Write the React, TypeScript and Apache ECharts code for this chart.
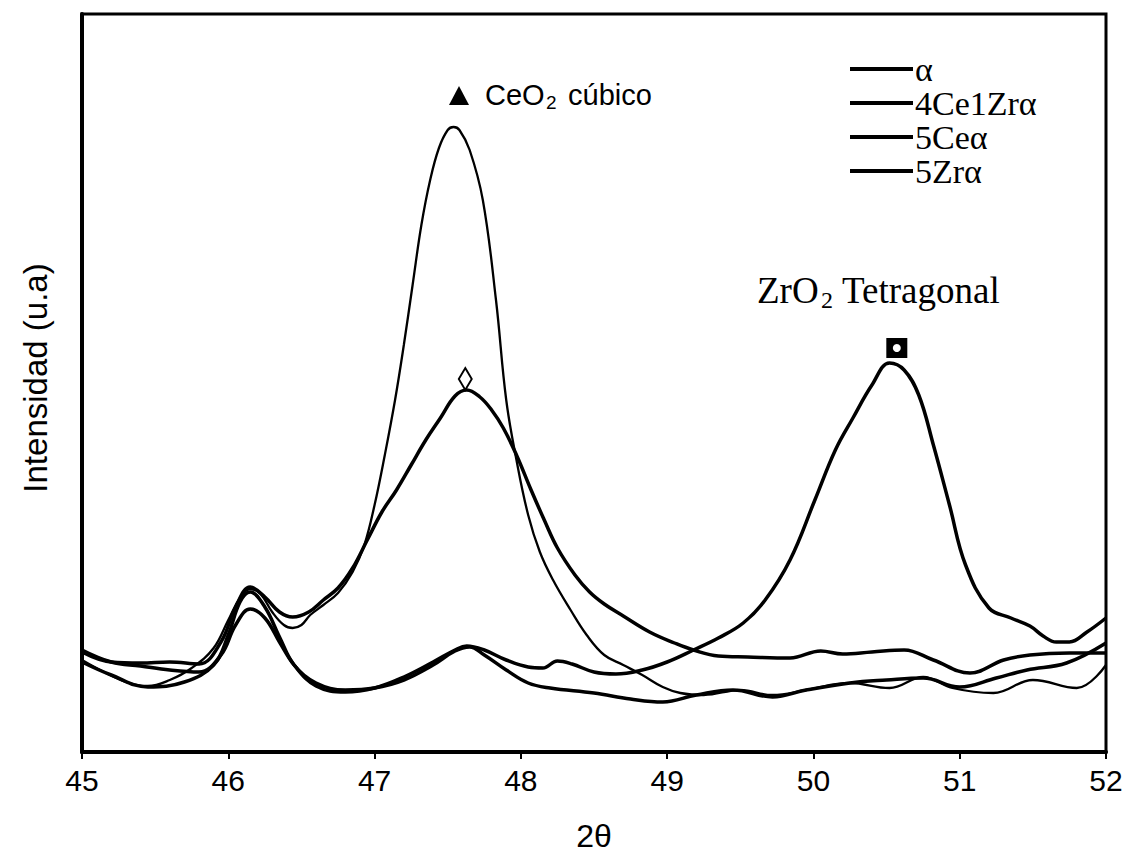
import React, { useEffect, useRef } from "react";
import * as echarts from "echarts";

// 2θ tick labels
const thetaTicks = [45, 46, 47, 48, 49, 50, 51, 52];

// α
const thetaAlpha = [45.0, 45.2, 45.45, 45.7, 45.9, 46.0, 46.08, 46.15, 46.25, 46.35, 46.45, 46.6, 46.8, 47.0, 47.2, 47.4, 47.55, 47.65, 47.75, 47.9, 48.05, 48.2, 48.5, 48.75, 48.97, 49.2, 49.45, 49.72, 49.95, 50.25, 50.5, 50.75, 51.0, 51.25, 51.46, 51.73, 52.0];
const intAlpha = [90, 77, 65, 70, 87, 117, 150, 160, 145, 115, 87, 69, 62, 64, 72, 87, 101, 105, 97, 82, 69, 64, 59, 53, 50, 57, 62, 55, 62, 69, 72, 74, 65, 74, 82, 89, 109];

// 4Ce1Zrα
const theta4Ce1Zr = [45.0, 45.2, 45.4, 45.6, 45.8, 45.95, 46.05, 46.15, 46.25, 46.35, 46.44, 46.55, 46.65, 46.75, 46.85, 46.95, 47.05, 47.15, 47.25, 47.35, 47.45, 47.55, 47.63, 47.72, 47.8, 47.88, 47.97, 48.07, 48.16, 48.25, 48.37, 48.47, 48.57, 48.7, 48.88, 49.05, 49.18, 49.35, 49.55, 49.84, 50.05, 50.2, 50.4, 50.62, 50.82, 51.07, 51.3, 51.48, 51.75, 52.0];
const int4Ce1Zr = [100, 90, 89, 90, 88, 110, 145, 165, 155, 140, 135, 140, 152, 164, 184, 212, 240, 262, 287, 312, 334, 356, 362, 355, 342, 324, 297, 262, 232, 204, 177, 160, 148, 136, 120, 109, 102, 96, 95, 94, 101, 98, 100, 102, 92, 79, 92, 97, 99, 99];

// 5Ceα
const theta5Ce = [45.0, 45.15, 45.3, 45.45, 45.6, 45.75, 45.9, 46.0, 46.08, 46.15, 46.22, 46.3, 46.38, 46.44, 46.5, 46.56, 46.65, 46.75, 46.85, 46.93, 47.0, 47.07, 47.14, 47.2, 47.26, 47.32, 47.38, 47.44, 47.5, 47.54, 47.58, 47.65, 47.74, 47.83, 47.9, 47.97, 48.05, 48.13, 48.22, 48.34, 48.45, 48.57, 48.7, 48.83, 48.97, 49.09, 49.25, 49.5, 49.72, 49.95, 50.25, 50.52, 50.75, 50.95, 51.23, 51.5, 51.8, 52.0];
const int5Ce = [92, 80, 70, 66, 72, 84, 104, 132, 154, 163, 158, 140, 127, 124, 127, 137, 147, 159, 180, 207, 247, 297, 352, 407, 467, 527, 572, 604, 622, 625, 622, 602, 552, 452, 352, 292, 237, 200, 172, 142, 117, 97, 87, 77, 65, 59, 57, 62, 57, 62, 69, 64, 75, 64, 59, 72, 64, 87];

// 5Zrα
const theta5Zr = [45.0, 45.2, 45.4, 45.6, 45.8, 45.95, 46.05, 46.15, 46.25, 46.35, 46.45, 46.6, 46.8, 47.0, 47.2, 47.4, 47.55, 47.63, 47.75, 47.9, 48.05, 48.15, 48.25, 48.35, 48.5, 48.65, 48.83, 49.0, 49.18, 49.35, 49.52, 49.67, 49.84, 50.01, 50.15, 50.27, 50.4, 50.52, 50.62, 50.72, 50.82, 50.93, 51.04, 51.2, 51.35, 51.48, 51.57, 51.66, 51.75, 51.87, 52.0];
const int5Zr = [102, 90, 86, 82, 80, 97, 127, 143, 134, 110, 87, 66, 60, 64, 75, 90, 102, 106, 102, 92, 85, 84, 91, 88, 80, 78, 82, 90, 102, 114, 129, 152, 192, 252, 302, 334, 367, 389, 382, 357, 307, 247, 187, 144, 134, 126, 116, 110, 110, 120, 134];

const seriesNames = ["α", "4Ce1Zrα", "5Ceα", "5Zrα"];

const pairs = (xs: number[], ys: number[]) => xs.map((x, i) => [x, ys[i]]);

export default function App() {
  const ref = useRef<HTMLDivElement>(null);
  useEffect(() => {
    const chart = echarts.init(ref.current!, null, { renderer: "svg" });
    const lineBase = (name: string, data: number[][], width: number, extra: any = {}) => ({
      name,
      type: "line",
      data,
      smooth: 0.4,
      showSymbol: false,
      symbol: "none",
      lineStyle: { color: "#000", width },
      itemStyle: { color: "#000" },
      z: 3,
      ...extra,
    });
    chart.setOption({
      animation: false,
      backgroundColor: "#fff",
      grid: { left: 82, right: 26, top: 14, bottom: 115, show: true, borderColor: "#000", borderWidth: 3 },
      legend: {
        orient: "vertical",
        left: 845,
        top: 47,
        itemWidth: 63,
        itemHeight: 4,
        itemGap: 0,
        icon: "rect",
        data: seriesNames,
        textStyle: { fontFamily: "Liberation Serif", fontSize: 34, color: "#000", lineHeight: 34, padding: [0, 0, 0, -3] },
      },
      xAxis: {
        type: "value",
        min: 45,
        max: 52,
        interval: 1,
        splitLine: { show: false },
        axisLine: { lineStyle: { color: "#000", width: 4 } },
        axisTick: { length: 7, lineStyle: { color: "#000", width: 2 } },
        axisLabel: {
          fontSize: 30,
          fontFamily: "Liberation Sans",
          color: "#000",
          margin: 13,
          formatter: (v: number) => (thetaTicks.includes(v) ? String(v) : ""),
        },
      },
      yAxis: {
        type: "value",
        min: 0,
        max: 738,
        splitLine: { show: false },
        axisLine: { show: true, lineStyle: { color: "#000", width: 4 } },
        axisTick: { show: false },
        axisLabel: { show: false },
      },
      series: [
        lineBase(seriesNames[0], pairs(thetaAlpha, intAlpha), 3.5),
        lineBase(seriesNames[1], pairs(theta4Ce1Zr, int4Ce1Zr), 3.5, {
          markPoint: {
            symbol: "diamond",
            symbolSize: [13, 22],
            label: { show: false },
            itemStyle: { color: "#fff", borderColor: "#000", borderWidth: 2 },
            data: [{ coord: [47.62, 373] }],
          },
        }),
        lineBase(seriesNames[2], pairs(theta5Ce, int5Ce), 2.3),
        lineBase(seriesNames[3], pairs(theta5Zr, int5Zr), 3.5, {
          markPoint: {
            label: { show: false },
            data: [
              { coord: [50.57, 404], symbol: "rect", symbolSize: [21, 20], itemStyle: { color: "#000" } },
              { coord: [50.57, 404], symbol: "circle", symbolSize: 8, itemStyle: { color: "#fff" } },
            ],
          },
        }),
      ],
      graphic: [
        { type: "polygon", shape: { points: [[449, 105], [469, 105], [459, 86]] }, style: { fill: "#000" } },
        { type: "text", x: 485, y: 95, style: { text: "CeO", fontFamily: "Liberation Sans", fontSize: 29, fill: "#000", textVerticalAlign: "middle" } },
        { type: "text", x: 546, y: 102, style: { text: "2", fontFamily: "Liberation Sans", fontSize: 19, fill: "#000", textVerticalAlign: "middle" } },
        { type: "text", x: 568, y: 95, style: { text: "cúbico", fontFamily: "Liberation Sans", fontSize: 29, fill: "#000", textVerticalAlign: "middle" } },
        { type: "text", x: 757, y: 290, style: { text: "ZrO", fontFamily: "Liberation Serif", fontSize: 37, fill: "#000", textVerticalAlign: "middle" } },
        { type: "text", x: 821, y: 300, style: { text: "2", fontFamily: "Liberation Serif", fontSize: 24, fill: "#000", textVerticalAlign: "middle" } },
        { type: "text", x: 842, y: 290, style: { text: "Tetragonal", fontFamily: "Liberation Serif", fontSize: 37, fill: "#000", textVerticalAlign: "middle" } },
        { type: "text", x: 35, y: 378, rotation: Math.PI / 2, style: { text: "Intensidad (u.a)", fontFamily: "Liberation Sans", fontSize: 33, fill: "#000", textAlign: "center", textVerticalAlign: "middle" } },
        { type: "text", x: 594, y: 836, style: { text: "2θ", fontFamily: "Liberation Sans", fontSize: 32, fill: "#000", textAlign: "center", textVerticalAlign: "middle" } },
      ],
    });
    return () => chart.dispose();
  }, []);
  return <div ref={ref} style={{ position: "fixed", left: 0, top: 0, width: 1132, height: 867 }} />;
}
